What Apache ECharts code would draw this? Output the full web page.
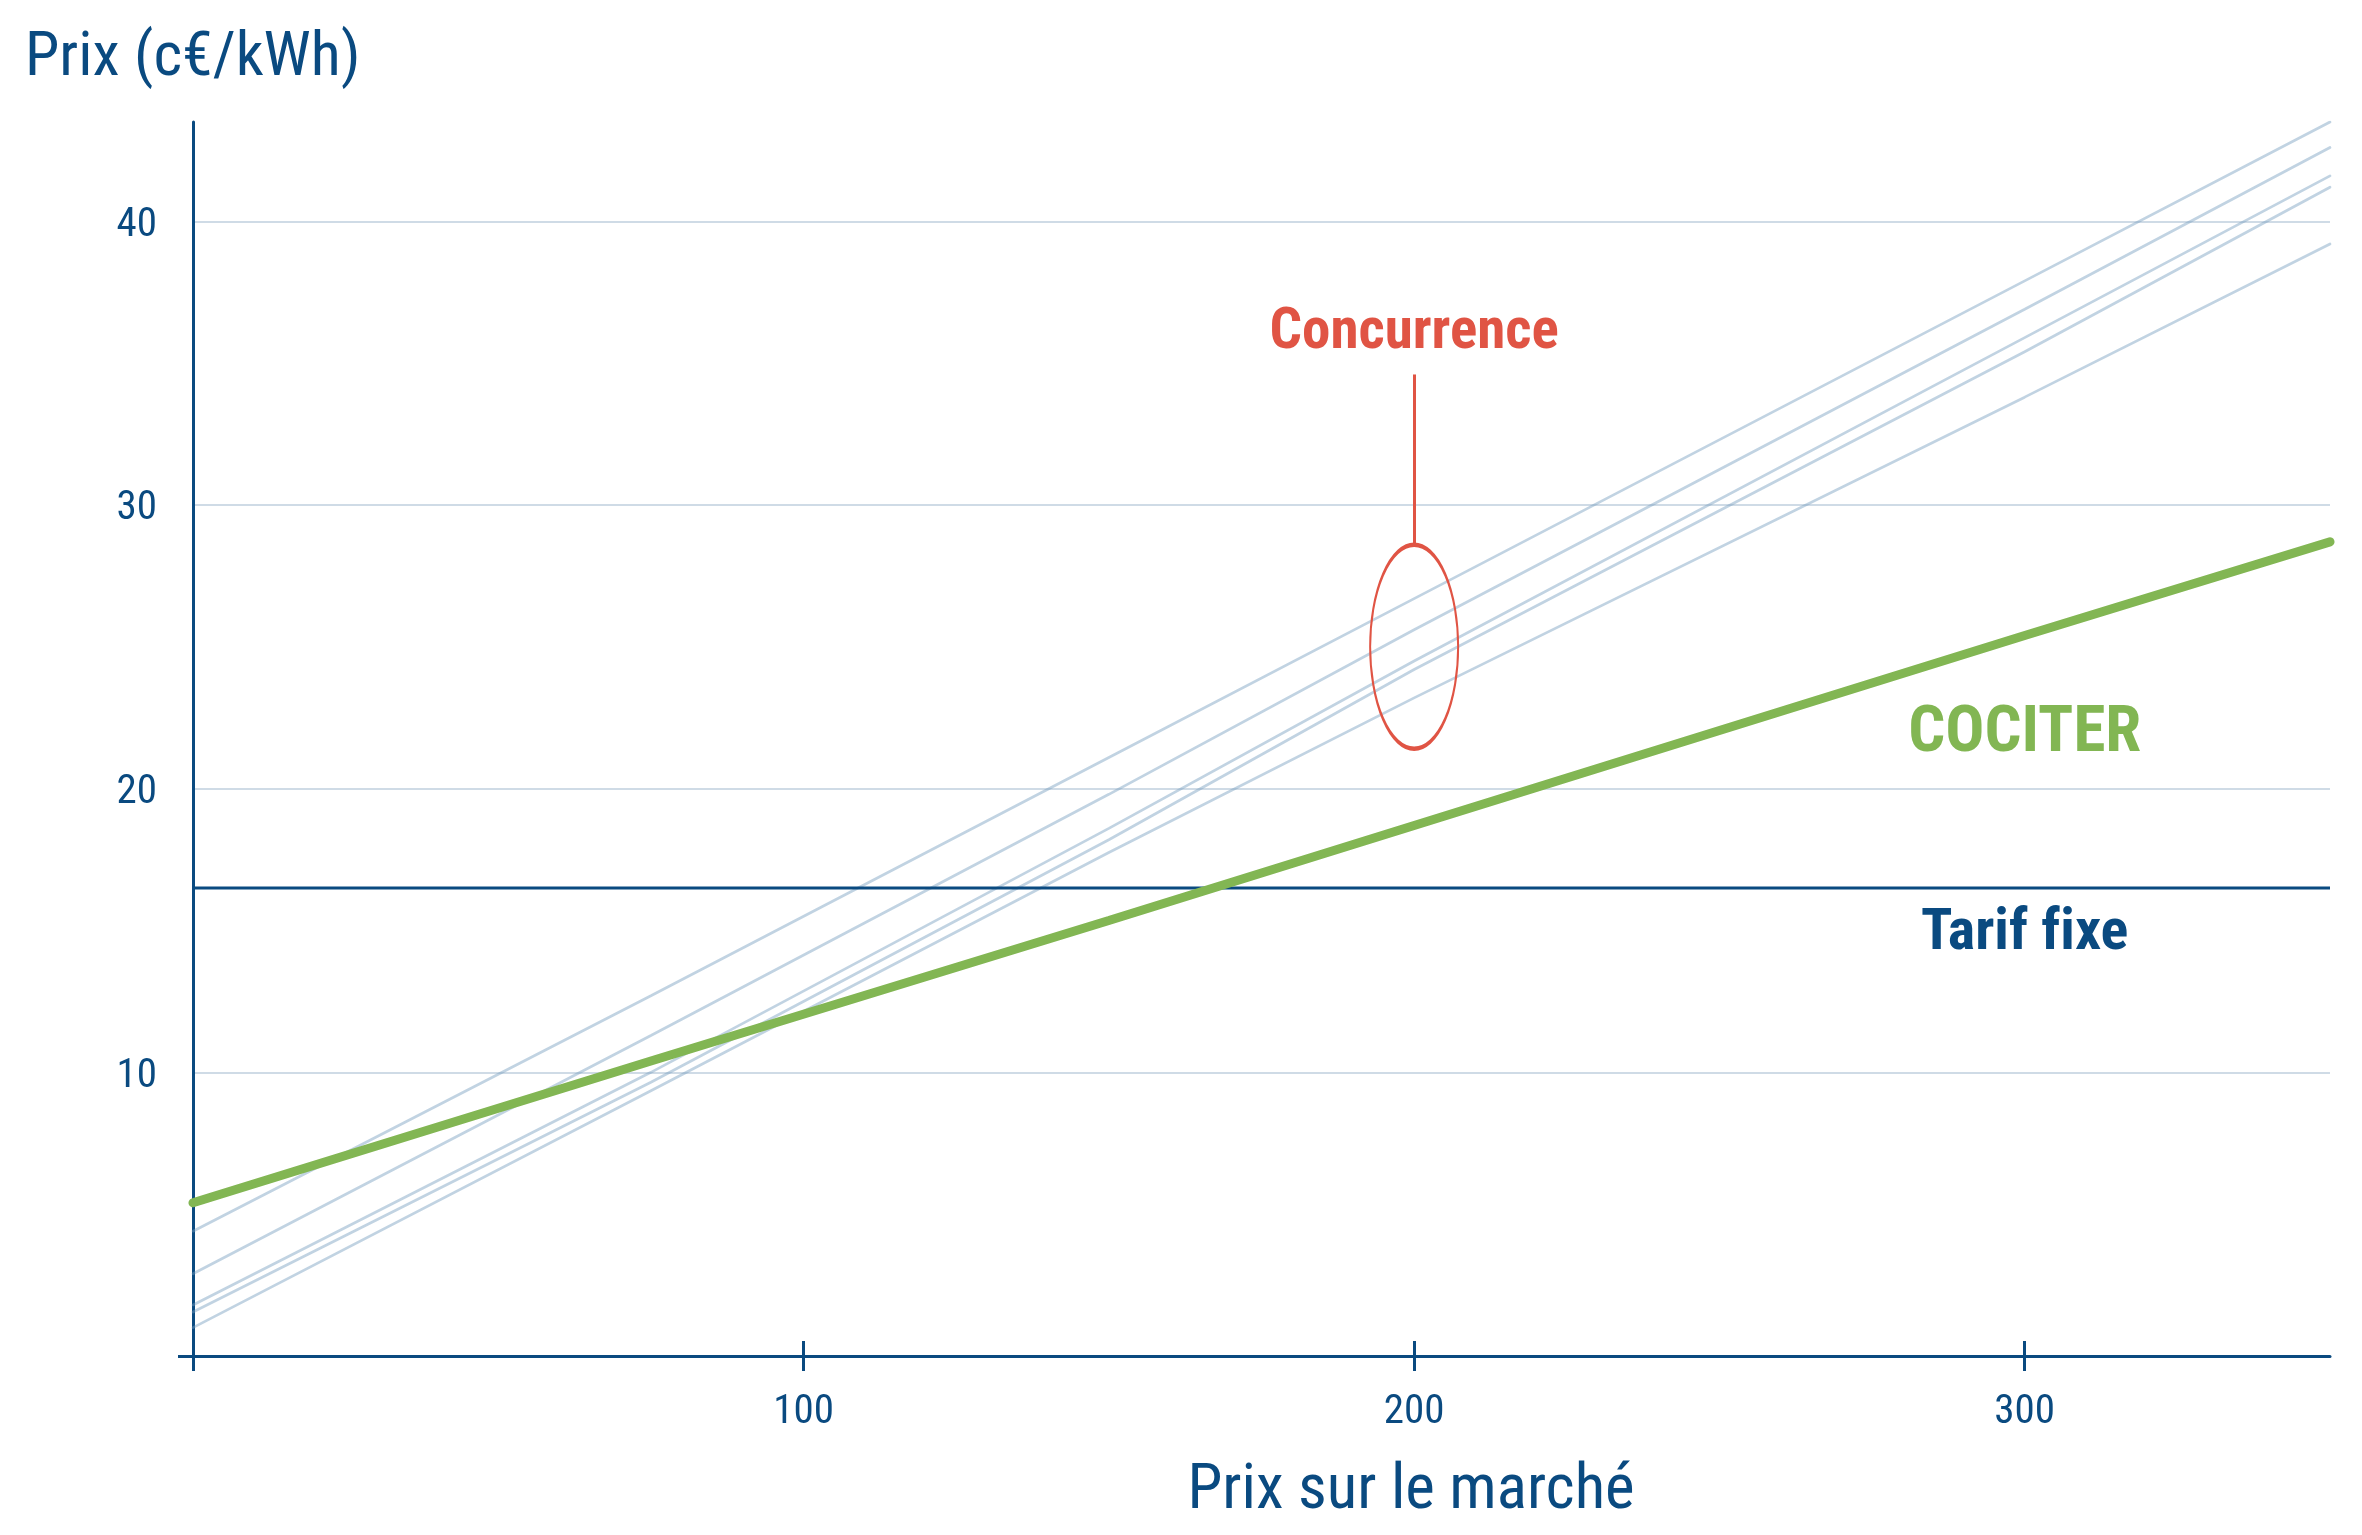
<!DOCTYPE html>
<html>
<head>
<meta charset="utf-8">
<script src="https://cdn.jsdelivr.net/npm/echarts@6/dist/echarts.min.js"></script>
<style>
html,body{margin:0;padding:0;background:#fff;}
#chart{width:2362px;height:1535px;}
</style>
</head>
<body>
<div id="chart"></div>
<script>
// ---- data ----
var xPoints = [0, 75, 150, 200, 300, 350];           // Prix sur le marché
var concurrenceA = [4.4, 12.7, 21.1, 26.7, 37.9, 43.5];
var concurrenceB = [2.9, 11.3, 19.8, 25.6, 36.9, 42.6];
var concurrenceC = [1.8, 10.0, 18.6, 24.5, 35.9, 41.6];
var concurrenceD = [1.55, 9.65, 18.2, 24.2, 35.4, 41.2];
var concurrenceE = [1.0, 9.35, 17.75, 23.2, 33.8, 39.2];
var cociter = [5.4, 10.4, 15.35, 18.7, 25.4, 28.7];
var tarifFixe = 16.5;
var xTickLabels = [100, 200, 300];
var yTickLabels = [10, 20, 30, 40];

// annotation anchors (data coordinates)
var concurrenceLabelAt = [200, 36.05];
var concurrenceEllipseAt = [200, 25];
var concurrenceLeader = [[200, 28.6], [200, 34.6]];
var cociterLabelAt = [300, 21.9];
var tarifLabelAt = [300, 14.85];

// ---- styles ----
var NAVY = '#0a4a80';
var GREEN = '#82b653';
var RED = '#e05444';
var LIGHT = 'rgba(118,158,190,0.45)';
var FONT = '"Roboto Condensed", "Liberation Sans Narrow", "DejaVu Sans Condensed", Roboto, sans-serif';

function pairs(vals) { return xPoints.map(function (x, i) { return [x, vals[i]]; }); }

var chart = echarts.init(document.getElementById('chart'), null, {renderer: 'canvas'});

var blueSeries = [concurrenceA, concurrenceB, concurrenceC, concurrenceD, concurrenceE].map(function (v, i) {
  var s = {
    type: 'line', name: 'Concurrence ' + (i + 1), data: pairs(v), symbol: 'none', silent: true,
    lineStyle: {color: LIGHT, width: 2.7, cap: 'round'}, z: 2
  };
  if (i === 0) {
    s.markPoint = {
      silent: true,
      data: [
        {coord: concurrenceLabelAt, symbol: 'circle', symbolSize: 1, itemStyle: {color: 'rgba(0,0,0,0)'},
          label: {show: true, position: 'inside', formatter: 'Concurrence', color: RED, fontSize: 57, fontWeight: 'bold', fontFamily: FONT}},
        {coord: concurrenceEllipseAt, symbol: 'circle', symbolSize: [88, 204],
          itemStyle: {color: 'rgba(0,0,0,0)', borderColor: RED, borderWidth: 3}, label: {show: false}}
      ]
    };
    s.markLine = {
      silent: true, symbol: ['none', 'none'], label: {show: false},
      lineStyle: {color: RED, width: 3, type: 'solid'},
      data: [[{coord: concurrenceLeader[0]}, {coord: concurrenceLeader[1]}]]
    };
  }
  return s;
});

var option = {
  animation: false,
  backgroundColor: '#ffffff',
  grid: {left: 193, right: 32, top: 122, bottom: 179, containLabel: false, outerBoundsMode: 'none'},
  xAxis: [{
    type: 'value', position: 'bottom', min: 0, max: 350, interval: 100,
    axisLine: {show: true, onZero: false, lineStyle: {color: NAVY, width: 3}},
    axisTick: {show: true, length: 15, lineStyle: {color: NAVY, width: 3}, customValues: [0].concat(xTickLabels)},
    axisLabel: {show: true, customValues: xTickLabels, margin: 36, color: NAVY, fontSize: 41, fontFamily: FONT},
    splitLine: {show: false}
  }, {
    type: 'value', position: 'top', min: 0, max: 350, interval: 100,
    axisLine: {show: false, onZero: true},
    axisTick: {show: true, length: 15, lineStyle: {color: NAVY, width: 3}, customValues: xTickLabels},
    axisLabel: {show: false},
    splitLine: {show: false}
  }],
  yAxis: [{
    type: 'value', position: 'left', min: 0, max: 43.5, interval: 10,
    axisLine: {show: true, onZero: false, lineStyle: {color: NAVY, width: 3}},
    axisTick: {show: false},
    axisLabel: {show: true, customValues: yTickLabels, margin: 36, verticalAlign: 'top', lineHeight: 8, color: NAVY, fontSize: 41, fontFamily: FONT},
    splitLine: {show: true, showMinLine: false, showMaxLine: false, lineStyle: {color: '#cfdbe6', width: 2}}
  }, {
    type: 'value', position: 'right', min: 0, max: 43.5, interval: 10,
    axisLine: {show: false, onZero: true},
    axisTick: {show: true, inside: true, length: 15, lineStyle: {color: NAVY, width: 3}, customValues: [0]},
    axisLabel: {show: false},
    splitLine: {show: false}
  }],
  graphic: [
    {type: 'text', x: 25, y: 59, silent: true,
      style: {text: 'Prix (c€/kWh)', fill: NAVY, fontSize: 62, fontFamily: FONT, align: 'left', verticalAlign: 'middle'}},
    {type: 'text', x: 1411, y: 1492, silent: true,
      style: {text: 'Prix sur le marché', fill: NAVY, fontSize: 63, fontFamily: FONT, align: 'center', verticalAlign: 'middle'}}
  ],
  series: blueSeries.concat([
    {
      type: 'line', name: 'Tarif fixe', data: [[xPoints[0], tarifFixe], [xPoints[xPoints.length - 1], tarifFixe]],
      symbol: 'none', silent: true, lineStyle: {color: NAVY, width: 3}, z: 3,
      markPoint: {silent: true, data: [{coord: tarifLabelAt, symbol: 'circle', symbolSize: 1, itemStyle: {color: 'rgba(0,0,0,0)'},
        label: {show: true, position: 'inside', formatter: 'Tarif f\u200Cixe', color: NAVY, fontSize: 58, fontWeight: 'bold', fontFamily: FONT}}]}
    },
    {
      type: 'line', name: 'COCITER', data: pairs(cociter), symbol: 'none', silent: true,
      lineStyle: {color: GREEN, width: 9, cap: 'round'}, z: 4,
      markPoint: {silent: true, data: [{coord: cociterLabelAt, symbol: 'circle', symbolSize: 1, itemStyle: {color: 'rgba(0,0,0,0)'},
        label: {show: true, position: 'inside', formatter: 'COCITER', color: GREEN, fontSize: 65, fontWeight: 'bold', fontFamily: FONT}}]}
    }
  ])
};
chart.setOption(option);
</script>
</body>
</html>
